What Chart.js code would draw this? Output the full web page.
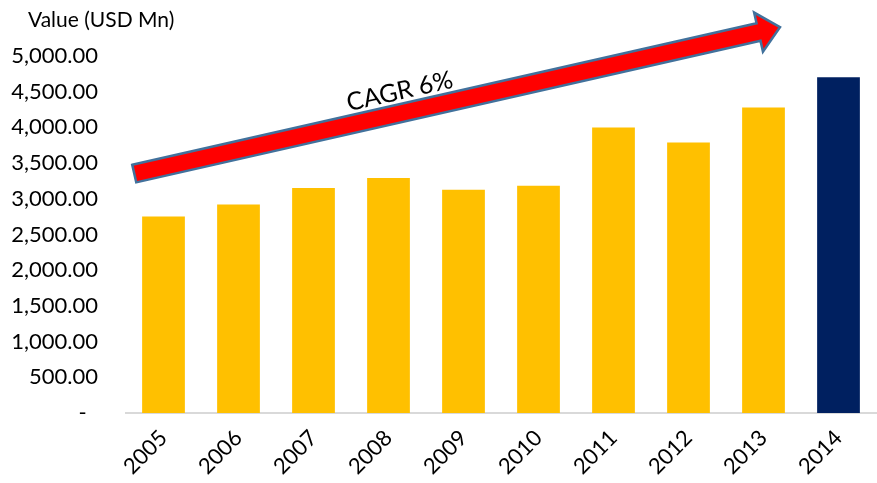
<!DOCTYPE html>
<html>
<head>
<meta charset="utf-8">
<script src="https://cdn.jsdelivr.net/npm/chart.js@4"></script>
<style>
  html, body { margin: 0; padding: 0; background: #fff; }
  #wrap { width: 877px; height: 483px; }
</style>
</head>
<body>
<div id="wrap"><canvas id="chart" width="877" height="483"></canvas></div>
<script>
// values
const years = ['2005', '2006', '2007', '2008', '2009', '2010', '2011', '2012', '2013', '2014'];
const marketValue = [2753, 2921, 3152, 3292, 3128, 3184, 3999, 3788, 4280, 4701];
const barColors = ['#ffc000', '#ffc000', '#ffc000', '#ffc000', '#ffc000',
                   '#ffc000', '#ffc000', '#ffc000', '#ffc000', '#002060'];
const yTicks = [0, 500, 1000, 1500, 2000, 2500, 3000, 3500, 4000, 4500, 5000];

// CAGR arrow, in (category index, value) units
const arrowFrom = [-0.39, 3353];
const arrowTo = [8.22, 5403];
const cagrText = 'CAGR 6%';
const cagrAt = [3.15, 4504];

const FONT = 'Lato, "Open Sans", sans-serif';

// draws the axis title and the CAGR arrow on top of the bars
const overlay = {
    id: 'overlay',
    afterDraw(chart) {
        const ctx = chart.ctx;
        const x = chart.scales.x, y = chart.scales.y;
        ctx.save();

        // title above the y axis
        ctx.fillStyle = '#000';
        ctx.font = '21px ' + FONT;
        ctx.textBaseline = 'middle';
        ctx.textAlign = 'left';
        ctx.fillText('Value (USD Mn)', 28, 20);

        // arrow
        const x0 = x.getPixelForValue(arrowFrom[0]), y0 = y.getPixelForValue(arrowFrom[1]);
        const x1 = x.getPixelForValue(arrowTo[0]), y1 = y.getPixelForValue(arrowTo[1]);
        const ang = Math.atan2(y1 - y0, x1 - x0);
        const len = Math.hypot(x1 - x0, y1 - y0);
        const shaft = 9, head = 20, headLen = 22;
        ctx.translate(x0, y0);
        ctx.rotate(ang);
        ctx.beginPath();
        ctx.moveTo(0, -shaft);
        ctx.lineTo(len - headLen, -shaft);
        ctx.lineTo(len - headLen, -head);
        ctx.lineTo(len, 0);
        ctx.lineTo(len - headLen, head);
        ctx.lineTo(len - headLen, shaft);
        ctx.lineTo(0, shaft);
        ctx.closePath();
        ctx.fillStyle = '#ff0000';
        ctx.fill();
        ctx.lineWidth = 2.5;
        ctx.strokeStyle = '#41719c';
        ctx.lineJoin = 'miter';
        ctx.stroke();
        ctx.setTransform(1, 0, 0, 1, 0, 0);

        // label riding on the arrow
        const tx = x.getPixelForValue(cagrAt[0]), ty = y.getPixelForValue(cagrAt[1]);
        ctx.translate(tx, ty);
        ctx.rotate(ang);
        ctx.fillStyle = '#000';
        ctx.font = '25px ' + FONT;
        ctx.textAlign = 'center';
        ctx.textBaseline = 'middle';
        ctx.fillText(cagrText, 0, 0);
        ctx.restore();
    }
};

new Chart(document.getElementById('chart'), {
    type: 'bar',
    data: {
        labels: years,
        datasets: [{
            label: 'Value (USD Mn)',
            data: marketValue,
            backgroundColor: barColors,
            borderWidth: 0,
            categoryPercentage: 1,
            barPercentage: 0.57
        }]
    },
    options: {
        responsive: false,
        animation: false,
        layout: { padding: { top: 56, right: 1, left: 0, bottom: 0 } },
        plugins: {
            legend: { display: false },
            tooltip: { enabled: false }
        },
        scales: {
            x: {
                grid: { display: false, drawTicks: false },
                border: { display: true, color: '#d9d9d9', width: 2 },
                ticks: {
                    color: '#000',
                    font: { family: FONT, size: 22 },
                    minRotation: 45,
                    maxRotation: 45,
                    padding: 12
                },
                afterFit(scale) { scale.height = 70; }
            },
            y: {
                min: 0,
                max: 5000,
                afterBuildTicks(scale) { scale.ticks = yTicks.map(v => ({ value: v })); },
                grid: { display: false, drawTicks: false },
                border: { display: false },
                ticks: {
                    color: '#000',
                    font: { family: FONT, size: 22 },
                    padding: 28,
                    callback: v => v === 0 ? '-  ' :
                        v.toLocaleString('en-US', { minimumFractionDigits: 2, maximumFractionDigits: 2 })
                },
                afterFit(scale) { scale.width = 126; }
            }
        }
    },
    plugins: [overlay]
});
</script>
</body>
</html>
